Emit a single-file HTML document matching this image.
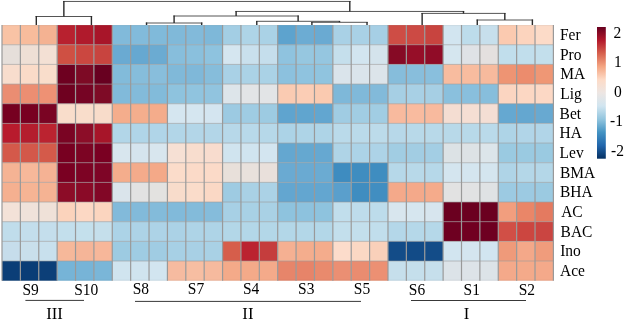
<!DOCTYPE html><html><head><meta charset="utf-8"><style>html,body{margin:0;padding:0;background:#fff;overflow:hidden;width:625px;height:320px}svg{display:block;will-change:transform;filter:blur(0.3px)}text{font-family:"Liberation Serif",serif;fill:#000}</style></head><body>
<svg width="625" height="320" viewBox="0 0 625 320">
<rect width="625" height="320" fill="#fff"/>
<rect x="2.00" y="25.10" width="18.40" height="19.68" fill="#F9C3A5"/>
<rect x="20.38" y="25.10" width="18.40" height="19.68" fill="#F8BC9C"/>
<rect x="38.76" y="25.10" width="18.40" height="19.68" fill="#F4B292"/>
<rect x="2.00" y="44.76" width="18.40" height="19.68" fill="#E6DFDA"/>
<rect x="20.38" y="44.76" width="18.40" height="19.68" fill="#EEDFD5"/>
<rect x="38.76" y="44.76" width="18.40" height="19.68" fill="#F3E0D4"/>
<rect x="2.00" y="64.42" width="18.40" height="19.68" fill="#F8DDCD"/>
<rect x="20.38" y="64.42" width="18.40" height="19.68" fill="#FADBC8"/>
<rect x="38.76" y="64.42" width="18.40" height="19.68" fill="#F9DDCB"/>
<rect x="2.00" y="84.08" width="18.40" height="19.68" fill="#EA8D72"/>
<rect x="20.38" y="84.08" width="18.40" height="19.68" fill="#EC8E72"/>
<rect x="38.76" y="84.08" width="18.40" height="19.68" fill="#EE9174"/>
<rect x="2.00" y="103.74" width="18.40" height="19.68" fill="#760020"/>
<rect x="20.38" y="103.74" width="18.40" height="19.68" fill="#780021"/>
<rect x="38.76" y="103.74" width="18.40" height="19.68" fill="#7A0423"/>
<rect x="2.00" y="123.40" width="18.40" height="19.68" fill="#B81B2D"/>
<rect x="20.38" y="123.40" width="18.40" height="19.68" fill="#B41D2E"/>
<rect x="38.76" y="123.40" width="18.40" height="19.68" fill="#BB2330"/>
<rect x="2.00" y="143.06" width="18.40" height="19.68" fill="#D4594A"/>
<rect x="20.38" y="143.06" width="18.40" height="19.68" fill="#D3584A"/>
<rect x="38.76" y="143.06" width="18.40" height="19.68" fill="#D45A4A"/>
<rect x="2.00" y="162.72" width="18.40" height="19.68" fill="#F5B394"/>
<rect x="20.38" y="162.72" width="18.40" height="19.68" fill="#F7B89A"/>
<rect x="38.76" y="162.72" width="18.40" height="19.68" fill="#F5B294"/>
<rect x="2.00" y="182.38" width="18.40" height="19.68" fill="#F5B090"/>
<rect x="20.38" y="182.38" width="18.40" height="19.68" fill="#F6B494"/>
<rect x="38.76" y="182.38" width="18.40" height="19.68" fill="#F5B393"/>
<rect x="2.00" y="202.04" width="18.40" height="19.68" fill="#F3E2D8"/>
<rect x="20.38" y="202.04" width="18.40" height="19.68" fill="#EFE2DA"/>
<rect x="38.76" y="202.04" width="18.40" height="19.68" fill="#EFE1D8"/>
<rect x="2.00" y="221.70" width="18.40" height="19.68" fill="#C0DDEB"/>
<rect x="20.38" y="221.70" width="18.40" height="19.68" fill="#C3DEEC"/>
<rect x="38.76" y="221.70" width="18.40" height="19.68" fill="#C4DEEC"/>
<rect x="2.00" y="241.36" width="18.40" height="19.68" fill="#C6DDEB"/>
<rect x="20.38" y="241.36" width="18.40" height="19.68" fill="#C9DFEB"/>
<rect x="38.76" y="241.36" width="18.40" height="19.68" fill="#C8E0ED"/>
<rect x="2.00" y="261.02" width="18.40" height="19.68" fill="#0B3E77"/>
<rect x="20.38" y="261.02" width="18.40" height="19.68" fill="#0A3D76"/>
<rect x="38.76" y="261.02" width="18.40" height="19.68" fill="#0C3F78"/>
<rect x="57.14" y="25.10" width="18.40" height="19.68" fill="#B8212F"/>
<rect x="75.52" y="25.10" width="18.40" height="19.68" fill="#B01A2C"/>
<rect x="93.90" y="25.10" width="18.40" height="19.68" fill="#A81529"/>
<rect x="57.14" y="44.76" width="18.40" height="19.68" fill="#CF5043"/>
<rect x="75.52" y="44.76" width="18.40" height="19.68" fill="#CB4740"/>
<rect x="93.90" y="44.76" width="18.40" height="19.68" fill="#C8443F"/>
<rect x="57.14" y="64.42" width="18.40" height="19.68" fill="#6E0020"/>
<rect x="75.52" y="64.42" width="18.40" height="19.68" fill="#7D0A25"/>
<rect x="93.90" y="64.42" width="18.40" height="19.68" fill="#680020"/>
<rect x="57.14" y="84.08" width="18.40" height="19.68" fill="#6F0120"/>
<rect x="75.52" y="84.08" width="18.40" height="19.68" fill="#760424"/>
<rect x="93.90" y="84.08" width="18.40" height="19.68" fill="#7E0B26"/>
<rect x="57.14" y="103.74" width="18.40" height="19.68" fill="#F9DDCB"/>
<rect x="75.52" y="103.74" width="18.40" height="19.68" fill="#F9DDCB"/>
<rect x="93.90" y="103.74" width="18.40" height="19.68" fill="#F8DCCA"/>
<rect x="57.14" y="123.40" width="18.40" height="19.68" fill="#7A0423"/>
<rect x="75.52" y="123.40" width="18.40" height="19.68" fill="#8C0D28"/>
<rect x="93.90" y="123.40" width="18.40" height="19.68" fill="#A71529"/>
<rect x="57.14" y="143.06" width="18.40" height="19.68" fill="#780021"/>
<rect x="75.52" y="143.06" width="18.40" height="19.68" fill="#7C0423"/>
<rect x="93.90" y="143.06" width="18.40" height="19.68" fill="#7A0022"/>
<rect x="57.14" y="162.72" width="18.40" height="19.68" fill="#7A0022"/>
<rect x="75.52" y="162.72" width="18.40" height="19.68" fill="#7D0324"/>
<rect x="93.90" y="162.72" width="18.40" height="19.68" fill="#7E0526"/>
<rect x="57.14" y="182.38" width="18.40" height="19.68" fill="#8C0C27"/>
<rect x="75.52" y="182.38" width="18.40" height="19.68" fill="#8A0A27"/>
<rect x="93.90" y="182.38" width="18.40" height="19.68" fill="#820726"/>
<rect x="57.14" y="202.04" width="18.40" height="19.68" fill="#FBD3BC"/>
<rect x="75.52" y="202.04" width="18.40" height="19.68" fill="#FCD8C4"/>
<rect x="93.90" y="202.04" width="18.40" height="19.68" fill="#FBD5BF"/>
<rect x="57.14" y="221.70" width="18.40" height="19.68" fill="#C3DFEC"/>
<rect x="75.52" y="221.70" width="18.40" height="19.68" fill="#C4E0EC"/>
<rect x="93.90" y="221.70" width="18.40" height="19.68" fill="#C5DFEB"/>
<rect x="57.14" y="241.36" width="18.40" height="19.68" fill="#F6B89A"/>
<rect x="75.52" y="241.36" width="18.40" height="19.68" fill="#F5B598"/>
<rect x="93.90" y="241.36" width="18.40" height="19.68" fill="#F7B79A"/>
<rect x="57.14" y="261.02" width="18.40" height="19.68" fill="#76B4D7"/>
<rect x="75.52" y="261.02" width="18.40" height="19.68" fill="#77B4D7"/>
<rect x="93.90" y="261.02" width="18.40" height="19.68" fill="#7AB6D8"/>
<rect x="112.28" y="25.10" width="18.40" height="19.68" fill="#81BADA"/>
<rect x="130.66" y="25.10" width="18.40" height="19.68" fill="#82BBDB"/>
<rect x="149.04" y="25.10" width="18.40" height="19.68" fill="#80BADA"/>
<rect x="112.28" y="44.76" width="18.40" height="19.68" fill="#6AAAD2"/>
<rect x="130.66" y="44.76" width="18.40" height="19.68" fill="#66A8D1"/>
<rect x="149.04" y="44.76" width="18.40" height="19.68" fill="#6BABD2"/>
<rect x="112.28" y="64.42" width="18.40" height="19.68" fill="#82BBDA"/>
<rect x="130.66" y="64.42" width="18.40" height="19.68" fill="#86BDDB"/>
<rect x="149.04" y="64.42" width="18.40" height="19.68" fill="#88BEDC"/>
<rect x="112.28" y="84.08" width="18.40" height="19.68" fill="#81BADA"/>
<rect x="130.66" y="84.08" width="18.40" height="19.68" fill="#83BBDA"/>
<rect x="149.04" y="84.08" width="18.40" height="19.68" fill="#82BBDA"/>
<rect x="112.28" y="103.74" width="18.40" height="19.68" fill="#F4AD8C"/>
<rect x="130.66" y="103.74" width="18.40" height="19.68" fill="#F4AE8D"/>
<rect x="149.04" y="103.74" width="18.40" height="19.68" fill="#F4AC8B"/>
<rect x="112.28" y="123.40" width="18.40" height="19.68" fill="#B2D6E8"/>
<rect x="130.66" y="123.40" width="18.40" height="19.68" fill="#B0D5E8"/>
<rect x="149.04" y="123.40" width="18.40" height="19.68" fill="#B0D5E8"/>
<rect x="112.28" y="143.06" width="18.40" height="19.68" fill="#D8E6EE"/>
<rect x="130.66" y="143.06" width="18.40" height="19.68" fill="#D5E4EE"/>
<rect x="149.04" y="143.06" width="18.40" height="19.68" fill="#D8E6EE"/>
<rect x="112.28" y="162.72" width="18.40" height="19.68" fill="#F4AD8C"/>
<rect x="130.66" y="162.72" width="18.40" height="19.68" fill="#F4AB8B"/>
<rect x="149.04" y="162.72" width="18.40" height="19.68" fill="#F4A988"/>
<rect x="112.28" y="182.38" width="18.40" height="19.68" fill="#DAE4EB"/>
<rect x="130.66" y="182.38" width="18.40" height="19.68" fill="#E2E2E2"/>
<rect x="149.04" y="182.38" width="18.40" height="19.68" fill="#E3E2E0"/>
<rect x="112.28" y="202.04" width="18.40" height="19.68" fill="#82BADA"/>
<rect x="130.66" y="202.04" width="18.40" height="19.68" fill="#82BADA"/>
<rect x="149.04" y="202.04" width="18.40" height="19.68" fill="#83BBDA"/>
<rect x="112.28" y="221.70" width="18.40" height="19.68" fill="#ACD3E7"/>
<rect x="130.66" y="221.70" width="18.40" height="19.68" fill="#ADD3E7"/>
<rect x="149.04" y="221.70" width="18.40" height="19.68" fill="#ADD3E7"/>
<rect x="112.28" y="241.36" width="18.40" height="19.68" fill="#9DCBE2"/>
<rect x="130.66" y="241.36" width="18.40" height="19.68" fill="#9FCCE3"/>
<rect x="149.04" y="241.36" width="18.40" height="19.68" fill="#A0CCE3"/>
<rect x="112.28" y="261.02" width="18.40" height="19.68" fill="#D0E4EF"/>
<rect x="130.66" y="261.02" width="18.40" height="19.68" fill="#D0E4EF"/>
<rect x="149.04" y="261.02" width="18.40" height="19.68" fill="#D2E5F0"/>
<rect x="167.42" y="25.10" width="18.40" height="19.68" fill="#80B9D9"/>
<rect x="185.80" y="25.10" width="18.40" height="19.68" fill="#82BADA"/>
<rect x="204.18" y="25.10" width="18.40" height="19.68" fill="#7EB8D9"/>
<rect x="167.42" y="44.76" width="18.40" height="19.68" fill="#87BEDC"/>
<rect x="185.80" y="44.76" width="18.40" height="19.68" fill="#8AC0DD"/>
<rect x="204.18" y="44.76" width="18.40" height="19.68" fill="#8EC3DF"/>
<rect x="167.42" y="64.42" width="18.40" height="19.68" fill="#80B9D9"/>
<rect x="185.80" y="64.42" width="18.40" height="19.68" fill="#7FB8D9"/>
<rect x="204.18" y="64.42" width="18.40" height="19.68" fill="#86BDDB"/>
<rect x="167.42" y="84.08" width="18.40" height="19.68" fill="#8EC3DE"/>
<rect x="185.80" y="84.08" width="18.40" height="19.68" fill="#90C4DF"/>
<rect x="204.18" y="84.08" width="18.40" height="19.68" fill="#91C4DF"/>
<rect x="167.42" y="103.74" width="18.40" height="19.68" fill="#D5E6F0"/>
<rect x="185.80" y="103.74" width="18.40" height="19.68" fill="#D5E6F0"/>
<rect x="204.18" y="103.74" width="18.40" height="19.68" fill="#D4E5F0"/>
<rect x="167.42" y="123.40" width="18.40" height="19.68" fill="#B2D6E8"/>
<rect x="185.80" y="123.40" width="18.40" height="19.68" fill="#B3D6E8"/>
<rect x="204.18" y="123.40" width="18.40" height="19.68" fill="#B3D6E8"/>
<rect x="167.42" y="143.06" width="18.40" height="19.68" fill="#F6E0D4"/>
<rect x="185.80" y="143.06" width="18.40" height="19.68" fill="#F8DDCE"/>
<rect x="204.18" y="143.06" width="18.40" height="19.68" fill="#F8DCCE"/>
<rect x="167.42" y="162.72" width="18.40" height="19.68" fill="#FBDCCA"/>
<rect x="185.80" y="162.72" width="18.40" height="19.68" fill="#FBDAC8"/>
<rect x="204.18" y="162.72" width="18.40" height="19.68" fill="#FBDAC8"/>
<rect x="167.42" y="182.38" width="18.40" height="19.68" fill="#F8DCCB"/>
<rect x="185.80" y="182.38" width="18.40" height="19.68" fill="#FADCCA"/>
<rect x="204.18" y="182.38" width="18.40" height="19.68" fill="#FAD8C5"/>
<rect x="167.42" y="202.04" width="18.40" height="19.68" fill="#81BADA"/>
<rect x="185.80" y="202.04" width="18.40" height="19.68" fill="#83BBDA"/>
<rect x="204.18" y="202.04" width="18.40" height="19.68" fill="#85BCDB"/>
<rect x="167.42" y="221.70" width="18.40" height="19.68" fill="#ABD2E6"/>
<rect x="185.80" y="221.70" width="18.40" height="19.68" fill="#AED4E7"/>
<rect x="204.18" y="221.70" width="18.40" height="19.68" fill="#AED4E7"/>
<rect x="167.42" y="241.36" width="18.40" height="19.68" fill="#A7D0E5"/>
<rect x="185.80" y="241.36" width="18.40" height="19.68" fill="#A8D0E5"/>
<rect x="204.18" y="241.36" width="18.40" height="19.68" fill="#A9D1E5"/>
<rect x="167.42" y="261.02" width="18.40" height="19.68" fill="#F6BBA0"/>
<rect x="185.80" y="261.02" width="18.40" height="19.68" fill="#F7BEA2"/>
<rect x="204.18" y="261.02" width="18.40" height="19.68" fill="#F6BA9E"/>
<rect x="222.56" y="25.10" width="18.40" height="19.68" fill="#A3CEE4"/>
<rect x="240.94" y="25.10" width="18.40" height="19.68" fill="#AED4E7"/>
<rect x="259.32" y="25.10" width="18.40" height="19.68" fill="#AAD2E6"/>
<rect x="222.56" y="44.76" width="18.40" height="19.68" fill="#D5E6F0"/>
<rect x="240.94" y="44.76" width="18.40" height="19.68" fill="#C9E0ED"/>
<rect x="259.32" y="44.76" width="18.40" height="19.68" fill="#C5DEEC"/>
<rect x="222.56" y="64.42" width="18.40" height="19.68" fill="#A9D1E6"/>
<rect x="240.94" y="64.42" width="18.40" height="19.68" fill="#ABD2E6"/>
<rect x="259.32" y="64.42" width="18.40" height="19.68" fill="#AAD2E6"/>
<rect x="222.56" y="84.08" width="18.40" height="19.68" fill="#DDE5EA"/>
<rect x="240.94" y="84.08" width="18.40" height="19.68" fill="#E2E4E6"/>
<rect x="259.32" y="84.08" width="18.40" height="19.68" fill="#E2E4E6"/>
<rect x="222.56" y="103.74" width="18.40" height="19.68" fill="#9CCAE2"/>
<rect x="240.94" y="103.74" width="18.40" height="19.68" fill="#9FCCE3"/>
<rect x="259.32" y="103.74" width="18.40" height="19.68" fill="#9DCBE2"/>
<rect x="222.56" y="123.40" width="18.40" height="19.68" fill="#B7D8E9"/>
<rect x="240.94" y="123.40" width="18.40" height="19.68" fill="#B8D9EA"/>
<rect x="259.32" y="123.40" width="18.40" height="19.68" fill="#B6D8E9"/>
<rect x="222.56" y="143.06" width="18.40" height="19.68" fill="#D0E4EF"/>
<rect x="240.94" y="143.06" width="18.40" height="19.68" fill="#D0E4EF"/>
<rect x="259.32" y="143.06" width="18.40" height="19.68" fill="#D3E5F0"/>
<rect x="222.56" y="162.72" width="18.40" height="19.68" fill="#E8E0DA"/>
<rect x="240.94" y="162.72" width="18.40" height="19.68" fill="#E8E1DC"/>
<rect x="259.32" y="162.72" width="18.40" height="19.68" fill="#E9E0DB"/>
<rect x="222.56" y="182.38" width="18.40" height="19.68" fill="#9ECBE2"/>
<rect x="240.94" y="182.38" width="18.40" height="19.68" fill="#A9D1E5"/>
<rect x="259.32" y="182.38" width="18.40" height="19.68" fill="#ABD2E6"/>
<rect x="222.56" y="202.04" width="18.40" height="19.68" fill="#A7D0E5"/>
<rect x="240.94" y="202.04" width="18.40" height="19.68" fill="#A8D1E5"/>
<rect x="259.32" y="202.04" width="18.40" height="19.68" fill="#A9D1E5"/>
<rect x="222.56" y="221.70" width="18.40" height="19.68" fill="#B3D7E8"/>
<rect x="240.94" y="221.70" width="18.40" height="19.68" fill="#B3D7E8"/>
<rect x="259.32" y="221.70" width="18.40" height="19.68" fill="#B3D7E8"/>
<rect x="222.56" y="241.36" width="18.40" height="19.68" fill="#D65E4B"/>
<rect x="240.94" y="241.36" width="18.40" height="19.68" fill="#BB2330"/>
<rect x="259.32" y="241.36" width="18.40" height="19.68" fill="#C53D3D"/>
<rect x="222.56" y="261.02" width="18.40" height="19.68" fill="#F4AA89"/>
<rect x="240.94" y="261.02" width="18.40" height="19.68" fill="#F4AA89"/>
<rect x="259.32" y="261.02" width="18.40" height="19.68" fill="#F4AA8A"/>
<rect x="277.70" y="25.10" width="18.40" height="19.68" fill="#5DA3CE"/>
<rect x="296.08" y="25.10" width="18.40" height="19.68" fill="#6CACD3"/>
<rect x="314.46" y="25.10" width="18.40" height="19.68" fill="#6AAAD2"/>
<rect x="277.70" y="44.76" width="18.40" height="19.68" fill="#8FC3DF"/>
<rect x="296.08" y="44.76" width="18.40" height="19.68" fill="#96C7E0"/>
<rect x="314.46" y="44.76" width="18.40" height="19.68" fill="#95C6E0"/>
<rect x="277.70" y="64.42" width="18.40" height="19.68" fill="#8CC1DE"/>
<rect x="296.08" y="64.42" width="18.40" height="19.68" fill="#8FC3DF"/>
<rect x="314.46" y="64.42" width="18.40" height="19.68" fill="#90C4DF"/>
<rect x="277.70" y="84.08" width="18.40" height="19.68" fill="#FACBB2"/>
<rect x="296.08" y="84.08" width="18.40" height="19.68" fill="#FBCDB5"/>
<rect x="314.46" y="84.08" width="18.40" height="19.68" fill="#FACAB0"/>
<rect x="277.70" y="103.74" width="18.40" height="19.68" fill="#5FA4CF"/>
<rect x="296.08" y="103.74" width="18.40" height="19.68" fill="#60A5CF"/>
<rect x="314.46" y="103.74" width="18.40" height="19.68" fill="#62A6D0"/>
<rect x="277.70" y="123.40" width="18.40" height="19.68" fill="#ACD3E7"/>
<rect x="296.08" y="123.40" width="18.40" height="19.68" fill="#AED4E7"/>
<rect x="314.46" y="123.40" width="18.40" height="19.68" fill="#AED4E7"/>
<rect x="277.70" y="143.06" width="18.40" height="19.68" fill="#64A7D0"/>
<rect x="296.08" y="143.06" width="18.40" height="19.68" fill="#65A8D0"/>
<rect x="314.46" y="143.06" width="18.40" height="19.68" fill="#66A8D1"/>
<rect x="277.70" y="162.72" width="18.40" height="19.68" fill="#6AAAD2"/>
<rect x="296.08" y="162.72" width="18.40" height="19.68" fill="#6AAAD2"/>
<rect x="314.46" y="162.72" width="18.40" height="19.68" fill="#6BABD2"/>
<rect x="277.70" y="182.38" width="18.40" height="19.68" fill="#63A6D0"/>
<rect x="296.08" y="182.38" width="18.40" height="19.68" fill="#63A6D0"/>
<rect x="314.46" y="182.38" width="18.40" height="19.68" fill="#63A6D0"/>
<rect x="277.70" y="202.04" width="18.40" height="19.68" fill="#8EC3DE"/>
<rect x="296.08" y="202.04" width="18.40" height="19.68" fill="#8DC2DE"/>
<rect x="314.46" y="202.04" width="18.40" height="19.68" fill="#8EC3DE"/>
<rect x="277.70" y="221.70" width="18.40" height="19.68" fill="#B3D7E8"/>
<rect x="296.08" y="221.70" width="18.40" height="19.68" fill="#B3D7E8"/>
<rect x="314.46" y="221.70" width="18.40" height="19.68" fill="#B3D7E8"/>
<rect x="277.70" y="241.36" width="18.40" height="19.68" fill="#F5B092"/>
<rect x="296.08" y="241.36" width="18.40" height="19.68" fill="#F4AD8D"/>
<rect x="314.46" y="241.36" width="18.40" height="19.68" fill="#F4AC8C"/>
<rect x="277.70" y="261.02" width="18.40" height="19.68" fill="#E7856A"/>
<rect x="296.08" y="261.02" width="18.40" height="19.68" fill="#E78469"/>
<rect x="314.46" y="261.02" width="18.40" height="19.68" fill="#E98A6D"/>
<rect x="332.84" y="25.10" width="18.40" height="19.68" fill="#A9D1E6"/>
<rect x="351.22" y="25.10" width="18.40" height="19.68" fill="#A9D1E6"/>
<rect x="369.60" y="25.10" width="18.40" height="19.68" fill="#A6CFE5"/>
<rect x="332.84" y="44.76" width="18.40" height="19.68" fill="#C5DFEC"/>
<rect x="351.22" y="44.76" width="18.40" height="19.68" fill="#D2E5F0"/>
<rect x="369.60" y="44.76" width="18.40" height="19.68" fill="#D4E3EC"/>
<rect x="332.84" y="64.42" width="18.40" height="19.68" fill="#DAE4EB"/>
<rect x="351.22" y="64.42" width="18.40" height="19.68" fill="#DAE4EB"/>
<rect x="369.60" y="64.42" width="18.40" height="19.68" fill="#DCE4EA"/>
<rect x="332.84" y="84.08" width="18.40" height="19.68" fill="#7EB8D9"/>
<rect x="351.22" y="84.08" width="18.40" height="19.68" fill="#80B9D9"/>
<rect x="369.60" y="84.08" width="18.40" height="19.68" fill="#82BADA"/>
<rect x="332.84" y="103.74" width="18.40" height="19.68" fill="#A0CCE3"/>
<rect x="351.22" y="103.74" width="18.40" height="19.68" fill="#A1CDE3"/>
<rect x="369.60" y="103.74" width="18.40" height="19.68" fill="#A1CDE3"/>
<rect x="332.84" y="123.40" width="18.40" height="19.68" fill="#BADAEA"/>
<rect x="351.22" y="123.40" width="18.40" height="19.68" fill="#BADAEA"/>
<rect x="369.60" y="123.40" width="18.40" height="19.68" fill="#BCDBEA"/>
<rect x="332.84" y="143.06" width="18.40" height="19.68" fill="#AFD4E7"/>
<rect x="351.22" y="143.06" width="18.40" height="19.68" fill="#ACD3E7"/>
<rect x="369.60" y="143.06" width="18.40" height="19.68" fill="#ADD3E7"/>
<rect x="332.84" y="162.72" width="18.40" height="19.68" fill="#3E8CC0"/>
<rect x="351.22" y="162.72" width="18.40" height="19.68" fill="#3F8DC0"/>
<rect x="369.60" y="162.72" width="18.40" height="19.68" fill="#3F8DC0"/>
<rect x="332.84" y="182.38" width="18.40" height="19.68" fill="#5A9FCC"/>
<rect x="351.22" y="182.38" width="18.40" height="19.68" fill="#3F8DC0"/>
<rect x="369.60" y="182.38" width="18.40" height="19.68" fill="#418EC1"/>
<rect x="332.84" y="202.04" width="18.40" height="19.68" fill="#C1DEEC"/>
<rect x="351.22" y="202.04" width="18.40" height="19.68" fill="#BEDCEB"/>
<rect x="369.60" y="202.04" width="18.40" height="19.68" fill="#BDDCEB"/>
<rect x="332.84" y="221.70" width="18.40" height="19.68" fill="#C3DFEC"/>
<rect x="351.22" y="221.70" width="18.40" height="19.68" fill="#C3DFEC"/>
<rect x="369.60" y="221.70" width="18.40" height="19.68" fill="#C1DEEC"/>
<rect x="332.84" y="241.36" width="18.40" height="19.68" fill="#FCDCCB"/>
<rect x="351.22" y="241.36" width="18.40" height="19.68" fill="#FBD8C4"/>
<rect x="369.60" y="241.36" width="18.40" height="19.68" fill="#F9D0BA"/>
<rect x="332.84" y="261.02" width="18.40" height="19.68" fill="#EB8F73"/>
<rect x="351.22" y="261.02" width="18.40" height="19.68" fill="#EA8C70"/>
<rect x="369.60" y="261.02" width="18.40" height="19.68" fill="#EC9073"/>
<rect x="387.98" y="25.10" width="18.40" height="19.68" fill="#CE4D45"/>
<rect x="406.36" y="25.10" width="18.40" height="19.68" fill="#CC4A44"/>
<rect x="424.74" y="25.10" width="18.40" height="19.68" fill="#C8443F"/>
<rect x="387.98" y="44.76" width="18.40" height="19.68" fill="#860A25"/>
<rect x="406.36" y="44.76" width="18.40" height="19.68" fill="#960E28"/>
<rect x="424.74" y="44.76" width="18.40" height="19.68" fill="#900C27"/>
<rect x="387.98" y="64.42" width="18.40" height="19.68" fill="#86BDDB"/>
<rect x="406.36" y="64.42" width="18.40" height="19.68" fill="#88BEDC"/>
<rect x="424.74" y="64.42" width="18.40" height="19.68" fill="#89BFDD"/>
<rect x="387.98" y="84.08" width="18.40" height="19.68" fill="#A6CFE4"/>
<rect x="406.36" y="84.08" width="18.40" height="19.68" fill="#A8D0E5"/>
<rect x="424.74" y="84.08" width="18.40" height="19.68" fill="#A6CFE4"/>
<rect x="387.98" y="103.74" width="18.40" height="19.68" fill="#F8BA9E"/>
<rect x="406.36" y="103.74" width="18.40" height="19.68" fill="#F9BB9F"/>
<rect x="424.74" y="103.74" width="18.40" height="19.68" fill="#F8BA9E"/>
<rect x="387.98" y="123.40" width="18.40" height="19.68" fill="#B7D8E9"/>
<rect x="406.36" y="123.40" width="18.40" height="19.68" fill="#B8D9E9"/>
<rect x="424.74" y="123.40" width="18.40" height="19.68" fill="#B8D9E9"/>
<rect x="387.98" y="143.06" width="18.40" height="19.68" fill="#A1CDE3"/>
<rect x="406.36" y="143.06" width="18.40" height="19.68" fill="#A2CDE3"/>
<rect x="424.74" y="143.06" width="18.40" height="19.68" fill="#A3CEE4"/>
<rect x="387.98" y="162.72" width="18.40" height="19.68" fill="#B6D8E9"/>
<rect x="406.36" y="162.72" width="18.40" height="19.68" fill="#B8D9E9"/>
<rect x="424.74" y="162.72" width="18.40" height="19.68" fill="#B6D8E9"/>
<rect x="387.98" y="182.38" width="18.40" height="19.68" fill="#F4A98A"/>
<rect x="406.36" y="182.38" width="18.40" height="19.68" fill="#F4A98A"/>
<rect x="424.74" y="182.38" width="18.40" height="19.68" fill="#F5AB8B"/>
<rect x="387.98" y="202.04" width="18.40" height="19.68" fill="#D8E6EE"/>
<rect x="406.36" y="202.04" width="18.40" height="19.68" fill="#D6E6EF"/>
<rect x="424.74" y="202.04" width="18.40" height="19.68" fill="#D7E5EE"/>
<rect x="387.98" y="221.70" width="18.40" height="19.68" fill="#B4D7E9"/>
<rect x="406.36" y="221.70" width="18.40" height="19.68" fill="#B5D8E9"/>
<rect x="424.74" y="221.70" width="18.40" height="19.68" fill="#B5D8E9"/>
<rect x="387.98" y="241.36" width="18.40" height="19.68" fill="#134C88"/>
<rect x="406.36" y="241.36" width="18.40" height="19.68" fill="#124B87"/>
<rect x="424.74" y="241.36" width="18.40" height="19.68" fill="#134C88"/>
<rect x="387.98" y="261.02" width="18.40" height="19.68" fill="#C6DFEC"/>
<rect x="406.36" y="261.02" width="18.40" height="19.68" fill="#C5DFEC"/>
<rect x="424.74" y="261.02" width="18.40" height="19.68" fill="#C6DFEC"/>
<rect x="443.12" y="25.10" width="18.40" height="19.68" fill="#D2E5F0"/>
<rect x="461.50" y="25.10" width="18.40" height="19.68" fill="#BDDCEB"/>
<rect x="479.88" y="25.10" width="18.40" height="19.68" fill="#C7DFEC"/>
<rect x="443.12" y="44.76" width="18.40" height="19.68" fill="#D5E6EF"/>
<rect x="461.50" y="44.76" width="18.40" height="19.68" fill="#DFE2E6"/>
<rect x="479.88" y="44.76" width="18.40" height="19.68" fill="#E4E0DF"/>
<rect x="443.12" y="64.42" width="18.40" height="19.68" fill="#F8BC9F"/>
<rect x="461.50" y="64.42" width="18.40" height="19.68" fill="#F8BC9F"/>
<rect x="479.88" y="64.42" width="18.40" height="19.68" fill="#F7BA9D"/>
<rect x="443.12" y="84.08" width="18.40" height="19.68" fill="#8AC0DD"/>
<rect x="461.50" y="84.08" width="18.40" height="19.68" fill="#89BFDD"/>
<rect x="479.88" y="84.08" width="18.40" height="19.68" fill="#87BEDC"/>
<rect x="443.12" y="103.74" width="18.40" height="19.68" fill="#F4DDD2"/>
<rect x="461.50" y="103.74" width="18.40" height="19.68" fill="#F5DED3"/>
<rect x="479.88" y="103.74" width="18.40" height="19.68" fill="#F4DED4"/>
<rect x="443.12" y="123.40" width="18.40" height="19.68" fill="#B8D9E9"/>
<rect x="461.50" y="123.40" width="18.40" height="19.68" fill="#B8D9E9"/>
<rect x="479.88" y="123.40" width="18.40" height="19.68" fill="#BADAEA"/>
<rect x="443.12" y="143.06" width="18.40" height="19.68" fill="#DCE2E5"/>
<rect x="461.50" y="143.06" width="18.40" height="19.68" fill="#DDE2E5"/>
<rect x="479.88" y="143.06" width="18.40" height="19.68" fill="#DCE5EA"/>
<rect x="443.12" y="162.72" width="18.40" height="19.68" fill="#D4E5EF"/>
<rect x="461.50" y="162.72" width="18.40" height="19.68" fill="#D4E5EF"/>
<rect x="479.88" y="162.72" width="18.40" height="19.68" fill="#D4E5EF"/>
<rect x="443.12" y="182.38" width="18.40" height="19.68" fill="#E2E2E2"/>
<rect x="461.50" y="182.38" width="18.40" height="19.68" fill="#E1E2E3"/>
<rect x="479.88" y="182.38" width="18.40" height="19.68" fill="#DFE2E4"/>
<rect x="443.12" y="202.04" width="18.40" height="19.68" fill="#6B0020"/>
<rect x="461.50" y="202.04" width="18.40" height="19.68" fill="#6B0020"/>
<rect x="479.88" y="202.04" width="18.40" height="19.68" fill="#6B0020"/>
<rect x="443.12" y="221.70" width="18.40" height="19.68" fill="#6E0021"/>
<rect x="461.50" y="221.70" width="18.40" height="19.68" fill="#710021"/>
<rect x="479.88" y="221.70" width="18.40" height="19.68" fill="#6E0021"/>
<rect x="443.12" y="241.36" width="18.40" height="19.68" fill="#D2E5F0"/>
<rect x="461.50" y="241.36" width="18.40" height="19.68" fill="#D4E5EF"/>
<rect x="479.88" y="241.36" width="18.40" height="19.68" fill="#D2E5F0"/>
<rect x="443.12" y="261.02" width="18.40" height="19.68" fill="#DCE3E8"/>
<rect x="461.50" y="261.02" width="18.40" height="19.68" fill="#DDE3E8"/>
<rect x="479.88" y="261.02" width="18.40" height="19.68" fill="#DCE3E8"/>
<rect x="498.26" y="25.10" width="18.40" height="19.68" fill="#FBCAB0"/>
<rect x="516.64" y="25.10" width="18.40" height="19.68" fill="#FCD4BE"/>
<rect x="535.02" y="25.10" width="18.40" height="19.68" fill="#FCDBC8"/>
<rect x="498.26" y="44.76" width="18.40" height="19.68" fill="#C1DEEC"/>
<rect x="516.64" y="44.76" width="18.40" height="19.68" fill="#C1DEEC"/>
<rect x="535.02" y="44.76" width="18.40" height="19.68" fill="#C3DFEC"/>
<rect x="498.26" y="64.42" width="18.40" height="19.68" fill="#EE9473"/>
<rect x="516.64" y="64.42" width="18.40" height="19.68" fill="#EC8C6D"/>
<rect x="535.02" y="64.42" width="18.40" height="19.68" fill="#EF9775"/>
<rect x="498.26" y="84.08" width="18.40" height="19.68" fill="#FBD5C1"/>
<rect x="516.64" y="84.08" width="18.40" height="19.68" fill="#FCD7C3"/>
<rect x="535.02" y="84.08" width="18.40" height="19.68" fill="#FCD8C5"/>
<rect x="498.26" y="103.74" width="18.40" height="19.68" fill="#65A8D1"/>
<rect x="516.64" y="103.74" width="18.40" height="19.68" fill="#64A7D0"/>
<rect x="535.02" y="103.74" width="18.40" height="19.68" fill="#68A9D1"/>
<rect x="498.26" y="123.40" width="18.40" height="19.68" fill="#AED4E7"/>
<rect x="516.64" y="123.40" width="18.40" height="19.68" fill="#B1D5E8"/>
<rect x="535.02" y="123.40" width="18.40" height="19.68" fill="#B1D5E8"/>
<rect x="498.26" y="143.06" width="18.40" height="19.68" fill="#9ACAE1"/>
<rect x="516.64" y="143.06" width="18.40" height="19.68" fill="#9ACAE1"/>
<rect x="535.02" y="143.06" width="18.40" height="19.68" fill="#9ACAE1"/>
<rect x="498.26" y="162.72" width="18.40" height="19.68" fill="#AFD4E7"/>
<rect x="516.64" y="162.72" width="18.40" height="19.68" fill="#B4D7E8"/>
<rect x="535.02" y="162.72" width="18.40" height="19.68" fill="#B4D7E8"/>
<rect x="498.26" y="182.38" width="18.40" height="19.68" fill="#9CCAE2"/>
<rect x="516.64" y="182.38" width="18.40" height="19.68" fill="#9CCAE2"/>
<rect x="535.02" y="182.38" width="18.40" height="19.68" fill="#9BCAE1"/>
<rect x="498.26" y="202.04" width="18.40" height="19.68" fill="#F29E7E"/>
<rect x="516.64" y="202.04" width="18.40" height="19.68" fill="#EA8668"/>
<rect x="535.02" y="202.04" width="18.40" height="19.68" fill="#E47A60"/>
<rect x="498.26" y="221.70" width="18.40" height="19.68" fill="#D14F46"/>
<rect x="516.64" y="221.70" width="18.40" height="19.68" fill="#CC4640"/>
<rect x="535.02" y="221.70" width="18.40" height="19.68" fill="#CA4541"/>
<rect x="498.26" y="241.36" width="18.40" height="19.68" fill="#EF9A7A"/>
<rect x="516.64" y="241.36" width="18.40" height="19.68" fill="#F4A889"/>
<rect x="535.02" y="241.36" width="18.40" height="19.68" fill="#F09C7C"/>
<rect x="498.26" y="261.02" width="18.40" height="19.68" fill="#F4A98A"/>
<rect x="516.64" y="261.02" width="18.40" height="19.68" fill="#F4AA8A"/>
<rect x="535.02" y="261.02" width="18.40" height="19.68" fill="#F4A98A"/>
<path d="M2.00 25.60H553.40M2.00 280.18H553.40" stroke="#000" stroke-opacity="0.06" stroke-width="1" fill="none"/>
<path d="M2.00 44.76H553.40M2.00 64.42H553.40M2.00 84.08H553.40M2.00 103.74H553.40M2.00 123.40H553.40M2.00 143.06H553.40M2.00 162.72H553.40M2.00 182.38H553.40M2.00 202.04H553.40M2.00 221.70H553.40M2.00 241.36H553.40M2.00 261.02H553.40" stroke="#999999" stroke-width="0.6" fill="none"/>
<path d="M2.00 25.10V280.68M20.38 25.10V280.68M38.76 25.10V280.68M57.14 25.10V280.68M75.52 25.10V280.68M93.90 25.10V280.68M112.28 25.10V280.68M130.66 25.10V280.68M149.04 25.10V280.68M167.42 25.10V280.68M185.80 25.10V280.68M204.18 25.10V280.68M222.56 25.10V280.68M240.94 25.10V280.68M259.32 25.10V280.68M277.70 25.10V280.68M296.08 25.10V280.68M314.46 25.10V280.68M332.84 25.10V280.68M351.22 25.10V280.68M369.60 25.10V280.68M387.98 25.10V280.68M406.36 25.10V280.68M424.74 25.10V280.68M443.12 25.10V280.68M461.50 25.10V280.68M479.88 25.10V280.68M498.26 25.10V280.68M516.64 25.10V280.68M535.02 25.10V280.68M553.40 25.10V280.68" stroke="#999999" stroke-width="1.2" fill="none"/>
<path d="M35.60 16.50H92.12M145.84 23.00H202.36M311.20 22.30H367.72M256.08 21.30H340.16M173.40 16.00H298.82M476.56 20.00H533.08M421.44 13.40H505.52M235.41 11.45H464.18M63.16 1.45H350.50" stroke="#2a2a2a" stroke-width="0.8" fill="none"/>
<path d="M36.30 16.10V25.10M91.42 16.10V25.10M146.54 22.60V25.10M201.66 22.60V25.10M311.90 21.90V25.10M367.02 21.90V25.10M256.78 20.90V25.10M339.46 20.90V22.30M174.10 15.60V23.00M298.12 15.60V21.30M477.26 19.60V25.10M532.38 19.60V25.10M422.14 13.00V25.10M504.82 13.00V20.00M236.11 11.05V16.00M463.48 11.05V13.40M63.86 1.05V16.50M349.80 1.05V11.45" stroke="#2a2a2a" stroke-width="1.4" fill="none"/>
<text transform="translate(559.95 40.03) scale(1 1.03)" font-size="15.5">Fer</text>
<text transform="translate(559.95 59.69) scale(1 1.03)" font-size="15.5">Pro</text>
<text transform="translate(560.35 79.35) scale(1 1.03)" font-size="15.5">MA</text>
<text transform="translate(560.25 99.01) scale(1 1.03)" font-size="15.5">Lig</text>
<text transform="translate(559.55 118.67) scale(1 1.03)" font-size="15.5">Bet</text>
<text transform="translate(559.55 138.33) scale(1 1.03)" font-size="15.5">HA</text>
<text transform="translate(559.55 157.99) scale(1 1.03)" font-size="15.5">Lev</text>
<text transform="translate(559.95 177.65) scale(1 1.03)" font-size="15.5">BMA</text>
<text transform="translate(559.95 197.31) scale(1 1.03)" font-size="15.5">BHA</text>
<text transform="translate(561.15 216.97) scale(1 1.03)" font-size="15.5">AC</text>
<text transform="translate(560.55 236.63) scale(1 1.03)" font-size="15.5">BAC</text>
<text transform="translate(560.15 256.29) scale(1 1.03)" font-size="15.5">Ino</text>
<text transform="translate(559.95 275.95) scale(1 1.03)" font-size="15.5">Ace</text>
<text transform="translate(30.57 295.00) scale(1 1.03)" font-size="15.5" text-anchor="middle">S9</text>
<text transform="translate(86.31 295.00) scale(1 1.03)" font-size="15.5" text-anchor="middle">S10</text>
<text transform="translate(140.85 294.30) scale(1 1.03)" font-size="15.5" text-anchor="middle">S8</text>
<text transform="translate(195.99 294.30) scale(1 1.03)" font-size="15.5" text-anchor="middle">S7</text>
<text transform="translate(251.13 294.20) scale(1 1.03)" font-size="15.5" text-anchor="middle">S4</text>
<text transform="translate(306.27 294.20) scale(1 1.03)" font-size="15.5" text-anchor="middle">S3</text>
<text transform="translate(362.01 294.20) scale(1 1.03)" font-size="15.5" text-anchor="middle">S5</text>
<text transform="translate(416.95 295.00) scale(1 1.03)" font-size="15.5" text-anchor="middle">S6</text>
<text transform="translate(471.69 295.00) scale(1 1.03)" font-size="15.5" text-anchor="middle">S1</text>
<text transform="translate(526.83 295.00) scale(1 1.03)" font-size="15.5" text-anchor="middle">S2</text>
<path d="M25.4 300.4H84M135 301.4H361M411 300.5H526" stroke="#383838" stroke-width="1" fill="none"/>
<text transform="translate(54.60 318.60) scale(1 1.0)" font-size="16.6" text-anchor="middle">III</text>
<text transform="translate(247.90 318.60) scale(1 1.0)" font-size="16.6" text-anchor="middle">II</text>
<text transform="translate(466.40 318.60) scale(1 1.0)" font-size="16.6" text-anchor="middle">I</text>
<defs><linearGradient id="lg" x1="0" y1="0" x2="0" y2="1">
<stop offset="0.00" stop-color="#67001F"/>
<stop offset="0.10" stop-color="#B2182B"/>
<stop offset="0.20" stop-color="#D6604D"/>
<stop offset="0.30" stop-color="#F4A582"/>
<stop offset="0.40" stop-color="#FDDBC7"/>
<stop offset="0.50" stop-color="#EDE6E3"/>
<stop offset="0.60" stop-color="#D1E5F0"/>
<stop offset="0.70" stop-color="#92C5DE"/>
<stop offset="0.80" stop-color="#4393C3"/>
<stop offset="0.90" stop-color="#2166AC"/>
<stop offset="1.00" stop-color="#053061"/>
</linearGradient></defs>
<rect x="597" y="27" width="8.8" height="131.7" fill="url(#lg)"/>
<text transform="translate(613.60 38.40) scale(1 1.03)" font-size="15.5">2</text>
<text transform="translate(614.10 67.20) scale(1 1.03)" font-size="15.5">1</text>
<text transform="translate(614.10 97.40) scale(1 1.03)" font-size="15.5">0</text>
<text transform="translate(610.00 126.00) scale(1 1.03)" font-size="15.5">-1</text>
<text transform="translate(611.00 155.70) scale(1 1.03)" font-size="15.5">-2</text>
</svg></body></html>
